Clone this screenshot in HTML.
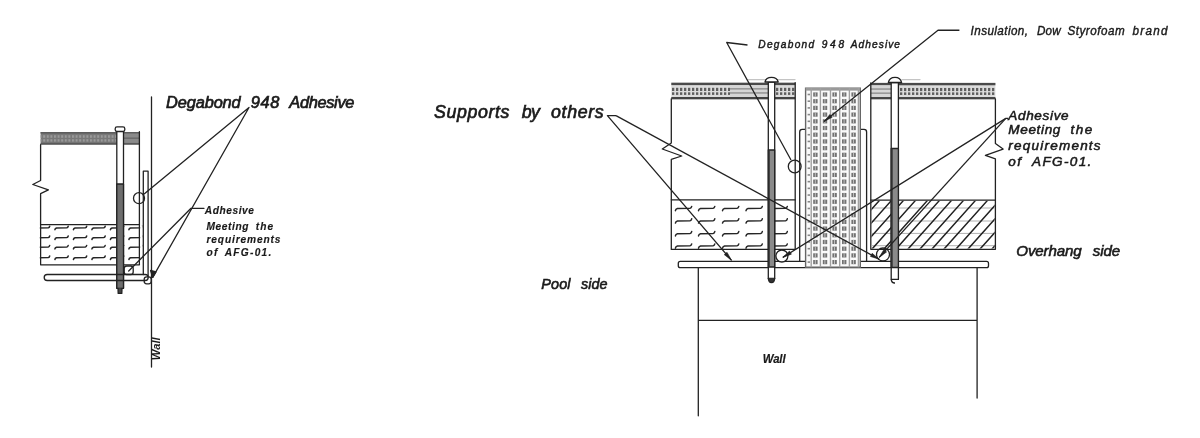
<!DOCTYPE html>
<html><head><meta charset="utf-8"><style>
html,body{margin:0;padding:0;background:#fff;width:1200px;height:438px;overflow:hidden}
svg{display:block;filter:grayscale(1)}
text{font-family:"Liberation Sans",sans-serif;font-style:italic;fill:#1a1a1a}
</style></head><body>
<svg width="1200" height="438" viewBox="0 0 1200 438">
<defs>
<pattern id="dash" x="0" y="0" width="4.0" height="10" patternUnits="userSpaceOnUse"><rect x="0" y="0" width="2.3" height="10" fill="#5e5e5e"/></pattern>
<pattern id="dashL" x="0" y="0" width="3.6" height="10" patternUnits="userSpaceOnUse"><rect x="0" y="0" width="2.0" height="10" fill="#9a9a9a"/></pattern>
</defs>
<rect width="1200" height="438" fill="#fff"/>
<g fill="none" stroke="#222" stroke-width="1.3" stroke-linejoin="round" stroke-linecap="round">
<g stroke="none"><rect x="40.6" y="132" width="98.8" height="12.6" fill="#787878"/><rect x="40.6" y="132" width="98.8" height="1.6" fill="#5c5c5c"/><rect x="40.6" y="142.9" width="98.8" height="1.7" fill="#595959"/><rect x="40.6" y="135.2" width="98.8" height="2.6" fill="url(#dashL)"/><rect x="40.6" y="139.2" width="98.8" height="2.4" fill="url(#dashL)"/><rect x="124" y="133.6" width="15.4" height="9.3" fill="#8a8a8a"/><rect x="124" y="137.6" width="15.4" height="1.1" fill="#5e5e5e"/></g>
<path d="M40.6 144.6 L40.6 180.5 L32.8 184.5 L48.4 189.9 L40.6 193.7 L40.6 264.8 L139.4 264.8 L139.4 131.6"/>
<line x1="40.6" y1="224.6" x2="139.4" y2="224.6"/>
<g stroke-width="1.5" stroke="#262626">
<path d="M36.40 229.71 Q36.64 228.40 38.03 228.00 L48.31 227.70 Q49.37 227.50 49.70 226.20"/>
<path d="M54.90 229.71 Q55.14 228.40 56.53 228.00 L66.81 227.70 Q67.87 227.50 68.20 226.20"/>
<path d="M73.40 229.71 Q73.64 228.40 75.03 228.00 L85.31 227.70 Q86.37 227.50 86.70 226.20"/>
<path d="M91.90 229.71 Q92.14 228.40 93.53 228.00 L103.81 227.70 Q104.87 227.50 105.20 226.20"/>
<path d="M110.40 229.71 Q110.64 228.40 112.03 228.00 L122.31 227.70 Q123.37 227.50 123.70 226.20"/>
<path d="M128.90 229.71 Q129.14 228.40 130.53 228.00 L140.81 227.70 Q141.87 227.50 142.20 226.20"/>
<path d="M36.40 239.51 Q36.64 238.20 38.03 237.80 L48.31 237.50 Q49.37 237.30 49.70 236.00"/>
<path d="M54.90 239.51 Q55.14 238.20 56.53 237.80 L66.81 237.50 Q67.87 237.30 68.20 236.00"/>
<path d="M73.40 239.51 Q73.64 238.20 75.03 237.80 L85.31 237.50 Q86.37 237.30 86.70 236.00"/>
<path d="M91.90 239.51 Q92.14 238.20 93.53 237.80 L103.81 237.50 Q104.87 237.30 105.20 236.00"/>
<path d="M110.40 239.51 Q110.64 238.20 112.03 237.80 L122.31 237.50 Q123.37 237.30 123.70 236.00"/>
<path d="M128.90 239.51 Q129.14 238.20 130.53 237.80 L140.81 237.50 Q141.87 237.30 142.20 236.00"/>
<path d="M36.40 248.91 Q36.64 247.60 38.03 247.20 L48.31 246.90 Q49.37 246.70 49.70 245.40"/>
<path d="M54.90 248.91 Q55.14 247.60 56.53 247.20 L66.81 246.90 Q67.87 246.70 68.20 245.40"/>
<path d="M73.40 248.91 Q73.64 247.60 75.03 247.20 L85.31 246.90 Q86.37 246.70 86.70 245.40"/>
<path d="M91.90 248.91 Q92.14 247.60 93.53 247.20 L103.81 246.90 Q104.87 246.70 105.20 245.40"/>
<path d="M110.40 248.91 Q110.64 247.60 112.03 247.20 L122.31 246.90 Q123.37 246.70 123.70 245.40"/>
<path d="M128.90 248.91 Q129.14 247.60 130.53 247.20 L140.81 246.90 Q141.87 246.70 142.20 245.40"/>
<path d="M36.40 259.51 Q36.64 258.20 38.03 257.80 L48.31 257.50 Q49.37 257.30 49.70 256.00"/>
<path d="M54.90 259.51 Q55.14 258.20 56.53 257.80 L66.81 257.50 Q67.87 257.30 68.20 256.00"/>
<path d="M73.40 259.51 Q73.64 258.20 75.03 257.80 L85.31 257.50 Q86.37 257.30 86.70 256.00"/>
<path d="M91.90 259.51 Q92.14 258.20 93.53 257.80 L103.81 257.50 Q104.87 257.30 105.20 256.00"/>
<path d="M110.40 259.51 Q110.64 258.20 112.03 257.80 L122.31 257.50 Q123.37 257.30 123.70 256.00"/>
<path d="M128.90 259.51 Q129.14 258.20 130.53 257.80 L140.81 257.50 Q141.87 257.30 142.20 256.00"/>
</g>
<rect x="20" y="225.5" width="19.8" height="42" fill="#fff" stroke="none"/>
<rect x="140.2" y="225.5" width="2.5" height="38.5" fill="#fff" stroke="none"/>
<rect x="116.8" y="131.3" width="6.7" height="157" fill="#fff"/>
<rect x="116.8" y="184" width="6.7" height="104.3" fill="#6e6e6e"/>
<rect x="115.2" y="126.9" width="9.6" height="4.6" rx="1.8" fill="#fff"/>
<path d="M118 288.3 L118.2 293.4 L121.8 293.4 L122 288.3" fill="#444"/>
<path d="M143.3 274.5 L143.3 171.2 L148.1 171.2 L148.1 276"/>
<rect x="44.2" y="274.5" width="104" height="6" rx="3"/>
<circle cx="139" cy="198.2" r="5.5"/>
<rect x="124.2" y="266" width="9" height="8.5" rx="2.5"/>
<rect x="144.2" y="276.8" width="7" height="7" rx="2.5"/>
<line x1="151.5" y1="97" x2="151.5" y2="367"/>
<path d="M143.2 194.8 L249 107.5 L152.7 277.4"/>
<path d="M152.7 277.4 L150.6 270.5 L156 272 Z" fill="#222"/>
<path d="M204 208.3 L191 208.3 L128.7 271"/>
</g>
<text transform="translate(166.1 107.5) scale(1.05 1)" x="0" y="0" textLength="71.05" lengthAdjust="spacing" font-size="15.6" font-weight="normal" stroke="#1a1a1a" stroke-width="0.65">Degabond</text>
<text transform="translate(250.8 107.5) scale(1.05 1)" x="0" y="0" textLength="27.14" lengthAdjust="spacing" font-size="15.6" font-weight="normal" stroke="#1a1a1a" stroke-width="0.65">948</text>
<text transform="translate(289.3 107.5) scale(1.05 1)" x="0" y="0" textLength="62.00" lengthAdjust="spacing" font-size="15.6" font-weight="normal" stroke="#1a1a1a" stroke-width="0.65">Adhesive</text>
<text transform="translate(204.7 213.7) scale(0.98 1)" x="0" y="0" textLength="50.31" lengthAdjust="spacing" font-size="10.4" font-weight="bold" stroke="#1a1a1a" stroke-width="0.15">Adhesive</text>
<text transform="translate(206.5 230.2) scale(0.98 1)" x="0" y="0" textLength="42.86" lengthAdjust="spacing" font-size="10.4" font-weight="bold" stroke="#1a1a1a" stroke-width="0.15">Meeting</text>
<text transform="translate(255.8 230.2) scale(0.98 1)" x="0" y="0" textLength="17.76" lengthAdjust="spacing" font-size="10.4" font-weight="bold" stroke="#1a1a1a" stroke-width="0.15">the</text>
<text transform="translate(206.5 243) scale(0.98 1)" x="0" y="0" textLength="75.51" lengthAdjust="spacing" font-size="10.4" font-weight="bold" stroke="#1a1a1a" stroke-width="0.15">requirements</text>
<text transform="translate(206.5 255.8) scale(0.98 1)" x="0" y="0" textLength="11.12" lengthAdjust="spacing" font-size="10.4" font-weight="bold" stroke="#1a1a1a" stroke-width="0.15">of</text>
<text transform="translate(224.7 255.8) scale(0.98 1)" x="0" y="0" textLength="47.55" lengthAdjust="spacing" font-size="10.4" font-weight="bold" stroke="#1a1a1a" stroke-width="0.15">AFG-01.</text>
<text transform="translate(159.7 360.2) rotate(-90)" x="0" y="0" textLength="22.9" lengthAdjust="spacingAndGlyphs" font-size="10.5" font-weight="bold">Wall</text>
<g fill="none" stroke="#222" stroke-width="1.3" stroke-linejoin="round" stroke-linecap="round">
<line x1="748" y1="79.6" x2="795" y2="79.6" stroke="#c4c4c4" stroke-width="1.3"/>
<line x1="902" y1="79.6" x2="920" y2="79.6" stroke="#c4c4c4" stroke-width="1.3"/>
<g stroke="none">
<rect x="671.3" y="82.7" width="123.9" height="16.6" fill="#dcdcdc"/>
<rect x="671.3" y="82.7" width="123.9" height="2.40" fill="#4a4a4a"/>
<rect x="671.3" y="97.00" width="123.9" height="2.30" fill="#444"/>
<rect x="671.3" y="87.80" width="123.9" height="3.20" fill="url(#dash)"/>
<rect x="671.3" y="92.30" width="123.9" height="2.60" fill="url(#dash)"/>
</g>
<g stroke="none"><rect x="730" y="85.2" width="38.3" height="11.8" fill="#d6d6d6"/><rect x="730" y="88.2" width="38.3" height="1.3" fill="#8a8a8a"/><rect x="730" y="92.3" width="38.3" height="1.3" fill="#8a8a8a"/></g>
<g stroke="none">
<rect x="870.8" y="82.9" width="124.6" height="16.4" fill="#dcdcdc"/>
<rect x="870.8" y="82.9" width="124.6" height="2.37" fill="#4a4a4a"/>
<rect x="870.8" y="97.03" width="124.6" height="2.27" fill="#444"/>
<rect x="870.8" y="87.94" width="124.6" height="3.16" fill="url(#dash)"/>
<rect x="870.8" y="92.38" width="124.6" height="2.57" fill="url(#dash)"/>
</g>
<g stroke="none"><rect x="871" y="85.4" width="20" height="11.6" fill="#d6d6d6"/><rect x="871" y="88.4" width="20" height="1.3" fill="#8a8a8a"/><rect x="871" y="92.5" width="20" height="1.3" fill="#8a8a8a"/></g>
<path d="M671.3 98.8 L671.3 143 L662.3 149 L681.7 156 L671.3 159.4 L671.3 249.4 L795.2 249.4 L795.2 82.6"/>
<line x1="671.3" y1="199.8" x2="795.2" y2="199.8"/>
<path d="M870.8 82.8 L870.8 249.3 L995.4 249.3 L995.4 158.8 L985.4 155.4 L1003.1 149.1 L995.4 143.4 L995.4 98.8"/>
<line x1="870.8" y1="200.1" x2="995.4" y2="200.1"/>
<g stroke-width="1.5" stroke="#262626">
<path d="M675.40 210.70 Q675.70 209.00 677.40 208.60 L690.00 208.30 Q691.30 208.10 691.70 206.40"/>
<path d="M698.50 210.70 Q698.80 209.00 700.50 208.60 L713.10 208.30 Q714.40 208.10 714.80 206.40"/>
<path d="M722.50 210.70 Q722.80 209.00 724.50 208.60 L737.10 208.30 Q738.40 208.10 738.80 206.40"/>
<path d="M746.00 210.70 Q746.30 209.00 748.00 208.60 L760.60 208.30 Q761.90 208.10 762.30 206.40"/>
<path d="M771.00 210.70 Q771.30 209.00 773.00 208.60 L785.60 208.30 Q786.90 208.10 787.30 206.40"/>
<path d="M675.40 223.10 Q675.70 221.40 677.40 221.00 L690.00 220.70 Q691.30 220.50 691.70 218.80"/>
<path d="M698.50 223.10 Q698.80 221.40 700.50 221.00 L713.10 220.70 Q714.40 220.50 714.80 218.80"/>
<path d="M722.50 223.10 Q722.80 221.40 724.50 221.00 L737.10 220.70 Q738.40 220.50 738.80 218.80"/>
<path d="M746.00 223.10 Q746.30 221.40 748.00 221.00 L760.60 220.70 Q761.90 220.50 762.30 218.80"/>
<path d="M771.00 223.10 Q771.30 221.40 773.00 221.00 L785.60 220.70 Q786.90 220.50 787.30 218.80"/>
<path d="M675.40 235.90 Q675.70 234.20 677.40 233.80 L690.00 233.50 Q691.30 233.30 691.70 231.60"/>
<path d="M698.50 235.90 Q698.80 234.20 700.50 233.80 L713.10 233.50 Q714.40 233.30 714.80 231.60"/>
<path d="M722.50 235.90 Q722.80 234.20 724.50 233.80 L737.10 233.50 Q738.40 233.30 738.80 231.60"/>
<path d="M746.00 235.90 Q746.30 234.20 748.00 233.80 L760.60 233.50 Q761.90 233.30 762.30 231.60"/>
<path d="M771.00 235.90 Q771.30 234.20 773.00 233.80 L785.60 233.50 Q786.90 233.30 787.30 231.60"/>
<path d="M675.40 248.20 Q675.70 246.50 677.40 246.10 L690.00 245.80 Q691.30 245.60 691.70 243.90"/>
<path d="M698.50 248.20 Q698.80 246.50 700.50 246.10 L713.10 245.80 Q714.40 245.60 714.80 243.90"/>
<path d="M722.50 248.20 Q722.80 246.50 724.50 246.10 L737.10 245.80 Q738.40 245.60 738.80 243.90"/>
<path d="M746.00 248.20 Q746.30 246.50 748.00 246.10 L760.60 245.80 Q761.90 245.60 762.30 243.90"/>
<path d="M771.00 248.20 Q771.30 246.50 773.00 246.10 L785.60 245.80 Q786.90 245.60 787.30 243.90"/>
</g>
<rect x="796" y="201" width="3" height="48" fill="#fff" stroke="none"/>
<clipPath id="rc"><rect x="871.5" y="200.8" width="123.2" height="47.8"/></clipPath>
<g clip-path="url(#rc)">
<g stroke="#b0b0b0" stroke-width="1">
<line x1="870.5" y1="208.0" x2="995.4" y2="208.0"/>
<line x1="870.5" y1="221.0" x2="995.4" y2="221.0"/>
<line x1="870.5" y1="233.4" x2="995.4" y2="233.4"/>
<line x1="870.5" y1="245.7" x2="995.4" y2="245.7"/>
</g>
<g stroke-width="1.5">
<line x1="787.8" y1="249.3" x2="831.8" y2="200.1"/>
<line x1="799.8" y1="249.3" x2="843.8" y2="200.1"/>
<line x1="811.8" y1="249.3" x2="855.8" y2="200.1"/>
<line x1="823.8" y1="249.3" x2="867.8" y2="200.1"/>
<line x1="835.8" y1="249.3" x2="879.8" y2="200.1"/>
<line x1="847.8" y1="249.3" x2="891.8" y2="200.1"/>
<line x1="859.8" y1="249.3" x2="903.8" y2="200.1"/>
<line x1="871.8" y1="249.3" x2="915.8" y2="200.1"/>
<line x1="883.8" y1="249.3" x2="927.8" y2="200.1"/>
<line x1="895.8" y1="249.3" x2="939.8" y2="200.1"/>
<line x1="907.8" y1="249.3" x2="951.8" y2="200.1"/>
<line x1="919.8" y1="249.3" x2="963.8" y2="200.1"/>
<line x1="931.8" y1="249.3" x2="975.8" y2="200.1"/>
<line x1="943.8" y1="249.3" x2="987.8" y2="200.1"/>
<line x1="955.8" y1="249.3" x2="999.8" y2="200.1"/>
<line x1="967.8" y1="249.3" x2="1011.8" y2="200.1"/>
<line x1="979.8" y1="249.3" x2="1023.8" y2="200.1"/>
<line x1="991.8" y1="249.3" x2="1035.8" y2="200.1"/>
<line x1="1003.8" y1="249.3" x2="1047.8" y2="200.1"/>
<line x1="1015.8" y1="249.3" x2="1059.8" y2="200.1"/>
<line x1="1027.8" y1="249.3" x2="1071.8" y2="200.1"/>
<line x1="1039.8" y1="249.3" x2="1083.8" y2="200.1"/>
<line x1="1051.8" y1="249.3" x2="1095.8" y2="200.1"/>
<line x1="1063.8" y1="249.3" x2="1107.8" y2="200.1"/>
<line x1="1075.8" y1="249.3" x2="1119.8" y2="200.1"/>
<line x1="1087.8" y1="249.3" x2="1131.8" y2="200.1"/>
</g></g>
<rect x="678.3" y="261.3" width="310.2" height="6.4" rx="2" fill="#fff"/>
<path d="M698.3 267.7 L698.3 415.8 M977.1 267.7 L977.1 398 M698.3 320.4 L977.1 320.4"/>
<path d="M799.7 261.3 L799.7 132 Q799.7 129.4 802.3 129.4 L805.6 129.4" fill="#fff"/>
<path d="M866.6 261.3 L866.6 132 Q866.6 129.4 864 129.4 L860.3 129.4" fill="#fff"/>
</g>
<g>
<rect x="805.6" y="88.2" width="54.7" height="179" fill="#fafafa" stroke="#666" stroke-width="1.4"/>
<rect x="805.6" y="88" width="54.7" height="2.6" fill="#999"/>
<line x1="811.2" y1="88.2" x2="811.2" y2="267.2" stroke="#a0a0a0" stroke-width="1.4"/>
<line x1="820.4" y1="88.2" x2="820.4" y2="267.2" stroke="#a0a0a0" stroke-width="1.4"/>
<line x1="830.5" y1="88.2" x2="830.5" y2="267.2" stroke="#a0a0a0" stroke-width="1.4"/>
<line x1="839.7" y1="88.2" x2="839.7" y2="267.2" stroke="#a0a0a0" stroke-width="1.4"/>
<line x1="849.4" y1="88.2" x2="849.4" y2="267.2" stroke="#a0a0a0" stroke-width="1.4"/>
<line x1="858.4" y1="88.2" x2="858.4" y2="267.2" stroke="#a0a0a0" stroke-width="1.4"/>
<rect x="813.20" y="92.40" width="4.4" height="4.2" fill="#727272"/><rect x="814.85" y="92.30" width="0.9" height="4.2" fill="#c8c8c8"/>
<rect x="822.80" y="92.40" width="4.4" height="4.2" fill="#727272"/><rect x="824.45" y="92.30" width="0.9" height="4.2" fill="#c8c8c8"/>
<rect x="832.40" y="92.40" width="4.4" height="4.2" fill="#727272"/><rect x="834.05" y="92.30" width="0.9" height="4.2" fill="#c8c8c8"/>
<rect x="842.00" y="92.40" width="4.4" height="4.2" fill="#727272"/><rect x="843.65" y="92.30" width="0.9" height="4.2" fill="#c8c8c8"/>
<rect x="851.40" y="92.40" width="4.4" height="4.2" fill="#727272"/><rect x="853.05" y="92.30" width="0.9" height="4.2" fill="#c8c8c8"/>
<rect x="807.6" y="93.70" width="2.4" height="1.6" fill="#888"/>
<rect x="813.20" y="99.10" width="4.4" height="4.2" fill="#727272"/><rect x="814.85" y="99.00" width="0.9" height="4.2" fill="#c8c8c8"/>
<rect x="822.80" y="99.10" width="4.4" height="4.2" fill="#727272"/><rect x="824.45" y="99.00" width="0.9" height="4.2" fill="#c8c8c8"/>
<rect x="832.40" y="99.10" width="4.4" height="4.2" fill="#727272"/><rect x="834.05" y="99.00" width="0.9" height="4.2" fill="#c8c8c8"/>
<rect x="842.00" y="99.10" width="4.4" height="4.2" fill="#727272"/><rect x="843.65" y="99.00" width="0.9" height="4.2" fill="#c8c8c8"/>
<rect x="851.40" y="99.10" width="4.4" height="4.2" fill="#727272"/><rect x="853.05" y="99.00" width="0.9" height="4.2" fill="#c8c8c8"/>
<rect x="807.6" y="100.40" width="2.4" height="1.6" fill="#888"/>
<rect x="813.20" y="105.81" width="4.4" height="4.2" fill="#727272"/><rect x="814.85" y="105.71" width="0.9" height="4.2" fill="#c8c8c8"/>
<rect x="822.80" y="105.81" width="4.4" height="4.2" fill="#727272"/><rect x="824.45" y="105.71" width="0.9" height="4.2" fill="#c8c8c8"/>
<rect x="832.40" y="105.81" width="4.4" height="4.2" fill="#727272"/><rect x="834.05" y="105.71" width="0.9" height="4.2" fill="#c8c8c8"/>
<rect x="842.00" y="105.81" width="4.4" height="4.2" fill="#727272"/><rect x="843.65" y="105.71" width="0.9" height="4.2" fill="#c8c8c8"/>
<rect x="851.40" y="105.81" width="4.4" height="4.2" fill="#727272"/><rect x="853.05" y="105.71" width="0.9" height="4.2" fill="#c8c8c8"/>
<rect x="807.6" y="107.11" width="2.4" height="1.6" fill="#888"/>
<rect x="813.20" y="112.51" width="4.4" height="4.2" fill="#727272"/><rect x="814.85" y="112.41" width="0.9" height="4.2" fill="#c8c8c8"/>
<rect x="822.80" y="112.51" width="4.4" height="4.2" fill="#727272"/><rect x="824.45" y="112.41" width="0.9" height="4.2" fill="#c8c8c8"/>
<rect x="832.40" y="112.51" width="4.4" height="4.2" fill="#727272"/><rect x="834.05" y="112.41" width="0.9" height="4.2" fill="#c8c8c8"/>
<rect x="842.00" y="112.51" width="4.4" height="4.2" fill="#727272"/><rect x="843.65" y="112.41" width="0.9" height="4.2" fill="#c8c8c8"/>
<rect x="851.40" y="112.51" width="4.4" height="4.2" fill="#727272"/><rect x="853.05" y="112.41" width="0.9" height="4.2" fill="#c8c8c8"/>
<rect x="807.6" y="113.81" width="2.4" height="1.6" fill="#888"/>
<rect x="813.20" y="119.22" width="4.4" height="4.2" fill="#727272"/><rect x="814.85" y="119.12" width="0.9" height="4.2" fill="#c8c8c8"/>
<rect x="822.80" y="119.22" width="4.4" height="4.2" fill="#727272"/><rect x="824.45" y="119.12" width="0.9" height="4.2" fill="#c8c8c8"/>
<rect x="832.40" y="119.22" width="4.4" height="4.2" fill="#727272"/><rect x="834.05" y="119.12" width="0.9" height="4.2" fill="#c8c8c8"/>
<rect x="842.00" y="119.22" width="4.4" height="4.2" fill="#727272"/><rect x="843.65" y="119.12" width="0.9" height="4.2" fill="#c8c8c8"/>
<rect x="851.40" y="119.22" width="4.4" height="4.2" fill="#727272"/><rect x="853.05" y="119.12" width="0.9" height="4.2" fill="#c8c8c8"/>
<rect x="807.6" y="120.52" width="2.4" height="1.6" fill="#888"/>
<rect x="813.20" y="125.92" width="4.4" height="4.2" fill="#727272"/><rect x="814.85" y="125.82" width="0.9" height="4.2" fill="#c8c8c8"/>
<rect x="822.80" y="125.92" width="4.4" height="4.2" fill="#727272"/><rect x="824.45" y="125.82" width="0.9" height="4.2" fill="#c8c8c8"/>
<rect x="832.40" y="125.92" width="4.4" height="4.2" fill="#727272"/><rect x="834.05" y="125.82" width="0.9" height="4.2" fill="#c8c8c8"/>
<rect x="842.00" y="125.92" width="4.4" height="4.2" fill="#727272"/><rect x="843.65" y="125.82" width="0.9" height="4.2" fill="#c8c8c8"/>
<rect x="851.40" y="125.92" width="4.4" height="4.2" fill="#727272"/><rect x="853.05" y="125.82" width="0.9" height="4.2" fill="#c8c8c8"/>
<rect x="807.6" y="127.22" width="2.4" height="1.6" fill="#888"/>
<rect x="813.20" y="132.62" width="4.4" height="4.2" fill="#727272"/><rect x="814.85" y="132.52" width="0.9" height="4.2" fill="#c8c8c8"/>
<rect x="822.80" y="132.62" width="4.4" height="4.2" fill="#727272"/><rect x="824.45" y="132.52" width="0.9" height="4.2" fill="#c8c8c8"/>
<rect x="832.40" y="132.62" width="4.4" height="4.2" fill="#727272"/><rect x="834.05" y="132.52" width="0.9" height="4.2" fill="#c8c8c8"/>
<rect x="842.00" y="132.62" width="4.4" height="4.2" fill="#727272"/><rect x="843.65" y="132.52" width="0.9" height="4.2" fill="#c8c8c8"/>
<rect x="851.40" y="132.62" width="4.4" height="4.2" fill="#727272"/><rect x="853.05" y="132.52" width="0.9" height="4.2" fill="#c8c8c8"/>
<rect x="807.6" y="133.92" width="2.4" height="1.6" fill="#888"/>
<rect x="813.20" y="139.33" width="4.4" height="4.2" fill="#727272"/><rect x="814.85" y="139.23" width="0.9" height="4.2" fill="#c8c8c8"/>
<rect x="822.80" y="139.33" width="4.4" height="4.2" fill="#727272"/><rect x="824.45" y="139.23" width="0.9" height="4.2" fill="#c8c8c8"/>
<rect x="832.40" y="139.33" width="4.4" height="4.2" fill="#727272"/><rect x="834.05" y="139.23" width="0.9" height="4.2" fill="#c8c8c8"/>
<rect x="842.00" y="139.33" width="4.4" height="4.2" fill="#727272"/><rect x="843.65" y="139.23" width="0.9" height="4.2" fill="#c8c8c8"/>
<rect x="851.40" y="139.33" width="4.4" height="4.2" fill="#727272"/><rect x="853.05" y="139.23" width="0.9" height="4.2" fill="#c8c8c8"/>
<rect x="807.6" y="140.63" width="2.4" height="1.6" fill="#888"/>
<rect x="813.20" y="146.03" width="4.4" height="4.2" fill="#727272"/><rect x="814.85" y="145.93" width="0.9" height="4.2" fill="#c8c8c8"/>
<rect x="822.80" y="146.03" width="4.4" height="4.2" fill="#727272"/><rect x="824.45" y="145.93" width="0.9" height="4.2" fill="#c8c8c8"/>
<rect x="832.40" y="146.03" width="4.4" height="4.2" fill="#727272"/><rect x="834.05" y="145.93" width="0.9" height="4.2" fill="#c8c8c8"/>
<rect x="842.00" y="146.03" width="4.4" height="4.2" fill="#727272"/><rect x="843.65" y="145.93" width="0.9" height="4.2" fill="#c8c8c8"/>
<rect x="851.40" y="146.03" width="4.4" height="4.2" fill="#727272"/><rect x="853.05" y="145.93" width="0.9" height="4.2" fill="#c8c8c8"/>
<rect x="807.6" y="147.33" width="2.4" height="1.6" fill="#888"/>
<rect x="813.20" y="152.74" width="4.4" height="4.2" fill="#727272"/><rect x="814.85" y="152.64" width="0.9" height="4.2" fill="#c8c8c8"/>
<rect x="822.80" y="152.74" width="4.4" height="4.2" fill="#727272"/><rect x="824.45" y="152.64" width="0.9" height="4.2" fill="#c8c8c8"/>
<rect x="832.40" y="152.74" width="4.4" height="4.2" fill="#727272"/><rect x="834.05" y="152.64" width="0.9" height="4.2" fill="#c8c8c8"/>
<rect x="842.00" y="152.74" width="4.4" height="4.2" fill="#727272"/><rect x="843.65" y="152.64" width="0.9" height="4.2" fill="#c8c8c8"/>
<rect x="851.40" y="152.74" width="4.4" height="4.2" fill="#727272"/><rect x="853.05" y="152.64" width="0.9" height="4.2" fill="#c8c8c8"/>
<rect x="807.6" y="154.04" width="2.4" height="1.6" fill="#888"/>
<rect x="813.20" y="159.44" width="4.4" height="4.2" fill="#727272"/><rect x="814.85" y="159.34" width="0.9" height="4.2" fill="#c8c8c8"/>
<rect x="822.80" y="159.44" width="4.4" height="4.2" fill="#727272"/><rect x="824.45" y="159.34" width="0.9" height="4.2" fill="#c8c8c8"/>
<rect x="832.40" y="159.44" width="4.4" height="4.2" fill="#727272"/><rect x="834.05" y="159.34" width="0.9" height="4.2" fill="#c8c8c8"/>
<rect x="842.00" y="159.44" width="4.4" height="4.2" fill="#727272"/><rect x="843.65" y="159.34" width="0.9" height="4.2" fill="#c8c8c8"/>
<rect x="851.40" y="159.44" width="4.4" height="4.2" fill="#727272"/><rect x="853.05" y="159.34" width="0.9" height="4.2" fill="#c8c8c8"/>
<rect x="807.6" y="160.74" width="2.4" height="1.6" fill="#888"/>
<rect x="813.20" y="166.14" width="4.4" height="4.2" fill="#727272"/><rect x="814.85" y="166.04" width="0.9" height="4.2" fill="#c8c8c8"/>
<rect x="822.80" y="166.14" width="4.4" height="4.2" fill="#727272"/><rect x="824.45" y="166.04" width="0.9" height="4.2" fill="#c8c8c8"/>
<rect x="832.40" y="166.14" width="4.4" height="4.2" fill="#727272"/><rect x="834.05" y="166.04" width="0.9" height="4.2" fill="#c8c8c8"/>
<rect x="842.00" y="166.14" width="4.4" height="4.2" fill="#727272"/><rect x="843.65" y="166.04" width="0.9" height="4.2" fill="#c8c8c8"/>
<rect x="851.40" y="166.14" width="4.4" height="4.2" fill="#727272"/><rect x="853.05" y="166.04" width="0.9" height="4.2" fill="#c8c8c8"/>
<rect x="807.6" y="167.44" width="2.4" height="1.6" fill="#888"/>
<rect x="813.20" y="172.85" width="4.4" height="4.2" fill="#727272"/><rect x="814.85" y="172.75" width="0.9" height="4.2" fill="#c8c8c8"/>
<rect x="822.80" y="172.85" width="4.4" height="4.2" fill="#727272"/><rect x="824.45" y="172.75" width="0.9" height="4.2" fill="#c8c8c8"/>
<rect x="832.40" y="172.85" width="4.4" height="4.2" fill="#727272"/><rect x="834.05" y="172.75" width="0.9" height="4.2" fill="#c8c8c8"/>
<rect x="842.00" y="172.85" width="4.4" height="4.2" fill="#727272"/><rect x="843.65" y="172.75" width="0.9" height="4.2" fill="#c8c8c8"/>
<rect x="851.40" y="172.85" width="4.4" height="4.2" fill="#727272"/><rect x="853.05" y="172.75" width="0.9" height="4.2" fill="#c8c8c8"/>
<rect x="807.6" y="174.15" width="2.4" height="1.6" fill="#888"/>
<rect x="813.20" y="179.55" width="4.4" height="4.2" fill="#727272"/><rect x="814.85" y="179.45" width="0.9" height="4.2" fill="#c8c8c8"/>
<rect x="822.80" y="179.55" width="4.4" height="4.2" fill="#727272"/><rect x="824.45" y="179.45" width="0.9" height="4.2" fill="#c8c8c8"/>
<rect x="832.40" y="179.55" width="4.4" height="4.2" fill="#727272"/><rect x="834.05" y="179.45" width="0.9" height="4.2" fill="#c8c8c8"/>
<rect x="842.00" y="179.55" width="4.4" height="4.2" fill="#727272"/><rect x="843.65" y="179.45" width="0.9" height="4.2" fill="#c8c8c8"/>
<rect x="851.40" y="179.55" width="4.4" height="4.2" fill="#727272"/><rect x="853.05" y="179.45" width="0.9" height="4.2" fill="#c8c8c8"/>
<rect x="807.6" y="180.85" width="2.4" height="1.6" fill="#888"/>
<rect x="813.20" y="186.26" width="4.4" height="4.2" fill="#727272"/><rect x="814.85" y="186.16" width="0.9" height="4.2" fill="#c8c8c8"/>
<rect x="822.80" y="186.26" width="4.4" height="4.2" fill="#727272"/><rect x="824.45" y="186.16" width="0.9" height="4.2" fill="#c8c8c8"/>
<rect x="832.40" y="186.26" width="4.4" height="4.2" fill="#727272"/><rect x="834.05" y="186.16" width="0.9" height="4.2" fill="#c8c8c8"/>
<rect x="842.00" y="186.26" width="4.4" height="4.2" fill="#727272"/><rect x="843.65" y="186.16" width="0.9" height="4.2" fill="#c8c8c8"/>
<rect x="851.40" y="186.26" width="4.4" height="4.2" fill="#727272"/><rect x="853.05" y="186.16" width="0.9" height="4.2" fill="#c8c8c8"/>
<rect x="807.6" y="187.56" width="2.4" height="1.6" fill="#888"/>
<rect x="813.20" y="192.96" width="4.4" height="4.2" fill="#727272"/><rect x="814.85" y="192.86" width="0.9" height="4.2" fill="#c8c8c8"/>
<rect x="822.80" y="192.96" width="4.4" height="4.2" fill="#727272"/><rect x="824.45" y="192.86" width="0.9" height="4.2" fill="#c8c8c8"/>
<rect x="832.40" y="192.96" width="4.4" height="4.2" fill="#727272"/><rect x="834.05" y="192.86" width="0.9" height="4.2" fill="#c8c8c8"/>
<rect x="842.00" y="192.96" width="4.4" height="4.2" fill="#727272"/><rect x="843.65" y="192.86" width="0.9" height="4.2" fill="#c8c8c8"/>
<rect x="851.40" y="192.96" width="4.4" height="4.2" fill="#727272"/><rect x="853.05" y="192.86" width="0.9" height="4.2" fill="#c8c8c8"/>
<rect x="807.6" y="194.26" width="2.4" height="1.6" fill="#888"/>
<rect x="813.20" y="199.66" width="4.4" height="4.2" fill="#727272"/><rect x="814.85" y="199.56" width="0.9" height="4.2" fill="#c8c8c8"/>
<rect x="822.80" y="199.66" width="4.4" height="4.2" fill="#727272"/><rect x="824.45" y="199.56" width="0.9" height="4.2" fill="#c8c8c8"/>
<rect x="832.40" y="199.66" width="4.4" height="4.2" fill="#727272"/><rect x="834.05" y="199.56" width="0.9" height="4.2" fill="#c8c8c8"/>
<rect x="842.00" y="199.66" width="4.4" height="4.2" fill="#727272"/><rect x="843.65" y="199.56" width="0.9" height="4.2" fill="#c8c8c8"/>
<rect x="851.40" y="199.66" width="4.4" height="4.2" fill="#727272"/><rect x="853.05" y="199.56" width="0.9" height="4.2" fill="#c8c8c8"/>
<rect x="807.6" y="200.96" width="2.4" height="1.6" fill="#888"/>
<rect x="813.20" y="206.37" width="4.4" height="4.2" fill="#727272"/><rect x="814.85" y="206.27" width="0.9" height="4.2" fill="#c8c8c8"/>
<rect x="822.80" y="206.37" width="4.4" height="4.2" fill="#727272"/><rect x="824.45" y="206.27" width="0.9" height="4.2" fill="#c8c8c8"/>
<rect x="832.40" y="206.37" width="4.4" height="4.2" fill="#727272"/><rect x="834.05" y="206.27" width="0.9" height="4.2" fill="#c8c8c8"/>
<rect x="842.00" y="206.37" width="4.4" height="4.2" fill="#727272"/><rect x="843.65" y="206.27" width="0.9" height="4.2" fill="#c8c8c8"/>
<rect x="851.40" y="206.37" width="4.4" height="4.2" fill="#727272"/><rect x="853.05" y="206.27" width="0.9" height="4.2" fill="#c8c8c8"/>
<rect x="807.6" y="207.67" width="2.4" height="1.6" fill="#888"/>
<rect x="813.20" y="213.07" width="4.4" height="4.2" fill="#727272"/><rect x="814.85" y="212.97" width="0.9" height="4.2" fill="#c8c8c8"/>
<rect x="822.80" y="213.07" width="4.4" height="4.2" fill="#727272"/><rect x="824.45" y="212.97" width="0.9" height="4.2" fill="#c8c8c8"/>
<rect x="832.40" y="213.07" width="4.4" height="4.2" fill="#727272"/><rect x="834.05" y="212.97" width="0.9" height="4.2" fill="#c8c8c8"/>
<rect x="842.00" y="213.07" width="4.4" height="4.2" fill="#727272"/><rect x="843.65" y="212.97" width="0.9" height="4.2" fill="#c8c8c8"/>
<rect x="851.40" y="213.07" width="4.4" height="4.2" fill="#727272"/><rect x="853.05" y="212.97" width="0.9" height="4.2" fill="#c8c8c8"/>
<rect x="807.6" y="214.37" width="2.4" height="1.6" fill="#888"/>
<rect x="813.20" y="219.78" width="4.4" height="4.2" fill="#727272"/><rect x="814.85" y="219.68" width="0.9" height="4.2" fill="#c8c8c8"/>
<rect x="822.80" y="219.78" width="4.4" height="4.2" fill="#727272"/><rect x="824.45" y="219.68" width="0.9" height="4.2" fill="#c8c8c8"/>
<rect x="832.40" y="219.78" width="4.4" height="4.2" fill="#727272"/><rect x="834.05" y="219.68" width="0.9" height="4.2" fill="#c8c8c8"/>
<rect x="842.00" y="219.78" width="4.4" height="4.2" fill="#727272"/><rect x="843.65" y="219.68" width="0.9" height="4.2" fill="#c8c8c8"/>
<rect x="851.40" y="219.78" width="4.4" height="4.2" fill="#727272"/><rect x="853.05" y="219.68" width="0.9" height="4.2" fill="#c8c8c8"/>
<rect x="807.6" y="221.08" width="2.4" height="1.6" fill="#888"/>
<rect x="813.20" y="226.48" width="4.4" height="4.2" fill="#727272"/><rect x="814.85" y="226.38" width="0.9" height="4.2" fill="#c8c8c8"/>
<rect x="822.80" y="226.48" width="4.4" height="4.2" fill="#727272"/><rect x="824.45" y="226.38" width="0.9" height="4.2" fill="#c8c8c8"/>
<rect x="832.40" y="226.48" width="4.4" height="4.2" fill="#727272"/><rect x="834.05" y="226.38" width="0.9" height="4.2" fill="#c8c8c8"/>
<rect x="842.00" y="226.48" width="4.4" height="4.2" fill="#727272"/><rect x="843.65" y="226.38" width="0.9" height="4.2" fill="#c8c8c8"/>
<rect x="851.40" y="226.48" width="4.4" height="4.2" fill="#727272"/><rect x="853.05" y="226.38" width="0.9" height="4.2" fill="#c8c8c8"/>
<rect x="807.6" y="227.78" width="2.4" height="1.6" fill="#888"/>
<rect x="813.20" y="233.18" width="4.4" height="4.2" fill="#727272"/><rect x="814.85" y="233.08" width="0.9" height="4.2" fill="#c8c8c8"/>
<rect x="822.80" y="233.18" width="4.4" height="4.2" fill="#727272"/><rect x="824.45" y="233.08" width="0.9" height="4.2" fill="#c8c8c8"/>
<rect x="832.40" y="233.18" width="4.4" height="4.2" fill="#727272"/><rect x="834.05" y="233.08" width="0.9" height="4.2" fill="#c8c8c8"/>
<rect x="842.00" y="233.18" width="4.4" height="4.2" fill="#727272"/><rect x="843.65" y="233.08" width="0.9" height="4.2" fill="#c8c8c8"/>
<rect x="851.40" y="233.18" width="4.4" height="4.2" fill="#727272"/><rect x="853.05" y="233.08" width="0.9" height="4.2" fill="#c8c8c8"/>
<rect x="807.6" y="234.48" width="2.4" height="1.6" fill="#888"/>
<rect x="813.20" y="239.89" width="4.4" height="4.2" fill="#727272"/><rect x="814.85" y="239.79" width="0.9" height="4.2" fill="#c8c8c8"/>
<rect x="822.80" y="239.89" width="4.4" height="4.2" fill="#727272"/><rect x="824.45" y="239.79" width="0.9" height="4.2" fill="#c8c8c8"/>
<rect x="832.40" y="239.89" width="4.4" height="4.2" fill="#727272"/><rect x="834.05" y="239.79" width="0.9" height="4.2" fill="#c8c8c8"/>
<rect x="842.00" y="239.89" width="4.4" height="4.2" fill="#727272"/><rect x="843.65" y="239.79" width="0.9" height="4.2" fill="#c8c8c8"/>
<rect x="851.40" y="239.89" width="4.4" height="4.2" fill="#727272"/><rect x="853.05" y="239.79" width="0.9" height="4.2" fill="#c8c8c8"/>
<rect x="807.6" y="241.19" width="2.4" height="1.6" fill="#888"/>
<rect x="813.20" y="246.59" width="4.4" height="4.2" fill="#727272"/><rect x="814.85" y="246.49" width="0.9" height="4.2" fill="#c8c8c8"/>
<rect x="822.80" y="246.59" width="4.4" height="4.2" fill="#727272"/><rect x="824.45" y="246.49" width="0.9" height="4.2" fill="#c8c8c8"/>
<rect x="832.40" y="246.59" width="4.4" height="4.2" fill="#727272"/><rect x="834.05" y="246.49" width="0.9" height="4.2" fill="#c8c8c8"/>
<rect x="842.00" y="246.59" width="4.4" height="4.2" fill="#727272"/><rect x="843.65" y="246.49" width="0.9" height="4.2" fill="#c8c8c8"/>
<rect x="851.40" y="246.59" width="4.4" height="4.2" fill="#727272"/><rect x="853.05" y="246.49" width="0.9" height="4.2" fill="#c8c8c8"/>
<rect x="807.6" y="247.89" width="2.4" height="1.6" fill="#888"/>
<rect x="813.20" y="253.30" width="4.4" height="4.2" fill="#727272"/><rect x="814.85" y="253.20" width="0.9" height="4.2" fill="#c8c8c8"/>
<rect x="822.80" y="253.30" width="4.4" height="4.2" fill="#727272"/><rect x="824.45" y="253.20" width="0.9" height="4.2" fill="#c8c8c8"/>
<rect x="832.40" y="253.30" width="4.4" height="4.2" fill="#727272"/><rect x="834.05" y="253.20" width="0.9" height="4.2" fill="#c8c8c8"/>
<rect x="842.00" y="253.30" width="4.4" height="4.2" fill="#727272"/><rect x="843.65" y="253.20" width="0.9" height="4.2" fill="#c8c8c8"/>
<rect x="851.40" y="253.30" width="4.4" height="4.2" fill="#727272"/><rect x="853.05" y="253.20" width="0.9" height="4.2" fill="#c8c8c8"/>
<rect x="807.6" y="254.60" width="2.4" height="1.6" fill="#888"/>
<rect x="813.20" y="260.00" width="4.4" height="4.2" fill="#727272"/><rect x="814.85" y="259.90" width="0.9" height="4.2" fill="#c8c8c8"/>
<rect x="822.80" y="260.00" width="4.4" height="4.2" fill="#727272"/><rect x="824.45" y="259.90" width="0.9" height="4.2" fill="#c8c8c8"/>
<rect x="832.40" y="260.00" width="4.4" height="4.2" fill="#727272"/><rect x="834.05" y="259.90" width="0.9" height="4.2" fill="#c8c8c8"/>
<rect x="842.00" y="260.00" width="4.4" height="4.2" fill="#727272"/><rect x="843.65" y="259.90" width="0.9" height="4.2" fill="#c8c8c8"/>
<rect x="851.40" y="260.00" width="4.4" height="4.2" fill="#727272"/><rect x="853.05" y="259.90" width="0.9" height="4.2" fill="#c8c8c8"/>
<rect x="807.6" y="261.30" width="2.4" height="1.6" fill="#888"/>
</g>
<g fill="none" stroke="#222" stroke-width="1.3" stroke-linejoin="round">
<rect x="768.3" y="82" width="6.4" height="196.4" fill="#fff"/>
<rect x="768.3" y="150" width="6.4" height="117" fill="#8a8a8a"/>
<line x1="769.2" y1="150" x2="769.2" y2="267" stroke="#333" stroke-width="1.2"/>
<path d="M765 82 Q766 77.4 771.5 77.4 Q777 77.4 778.2 82 Z" fill="#fff"/>
<path d="M768.3 278 Q768.5 282.6 771.5 282.6 Q774.5 282.6 774.7 278" fill="#333"/>
<rect x="891.2" y="82.5" width="7.2" height="196.9" fill="#fff"/>
<rect x="891.2" y="148.5" width="7.2" height="119" fill="#8a8a8a"/>
<line x1="892.1" y1="148.5" x2="892.1" y2="267" stroke="#333" stroke-width="1.2"/>
<path d="M888.3 82.5 Q889.3 77.3 895 77.3 Q900.6 77.3 901.6 82.5 Z" fill="#fff"/>
<path d="M891.2 279.4 Q891.6 283.2 895 283" />
<circle cx="794.7" cy="166.5" r="6.4"/>
<circle cx="781.9" cy="256" r="6" fill="#fff"/>
<circle cx="883" cy="254.5" r="6.5"/>
<path d="M747.5 45 L726.7 42.5 L791 160"/>
<path d="M959.4 30.25 L938 30.25 L824 121.5"/>
<path d="M824.00 121.50 L832.15 117.28 L829.90 114.47 Z" fill="#222" stroke="#222" stroke-width="0.6"/>
<path d="M616 115.6 L607.4 115.6 L731.5 260.3"/>
<path d="M731.50 260.30 L727.01 252.30 L724.27 254.64 Z" fill="#222" stroke="#222" stroke-width="0.6"/>
<path d="M616 115.6 L879.2 259.2"/>
<path d="M879.20 259.20 L872.16 253.31 L870.44 256.47 Z" fill="#222" stroke="#222" stroke-width="0.6"/>
<path d="M1008 118.4 L1005.8 118.4 L782.8 257.4"/>
<path d="M782.80 257.40 L791.39 254.17 L789.49 251.11 Z" fill="#222" stroke="#222" stroke-width="0.6"/>
<path d="M1005.8 118.4 L879.2 257.4"/>
<path d="M879.20 257.40 L886.59 251.96 L883.93 249.53 Z" fill="#222" stroke="#222" stroke-width="0.6"/>
</g>
<text transform="translate(758.3 47.5) scale(0.95 1)" x="0" y="0" textLength="58.84" lengthAdjust="spacing" font-size="10.7" font-weight="normal" stroke="#1a1a1a" stroke-width="0.45">Degabond</text>
<text transform="translate(821.7 47.5) scale(0.95 1)" x="0" y="0" textLength="23.68" lengthAdjust="spacing" font-size="10.7" font-weight="normal" stroke="#1a1a1a" stroke-width="0.45">948</text>
<text transform="translate(850.8 47.5) scale(0.95 1)" x="0" y="0" textLength="51.79" lengthAdjust="spacing" font-size="10.7" font-weight="normal" stroke="#1a1a1a" stroke-width="0.45">Adhesive</text>
<text transform="translate(970.6 34.75) scale(0.95 1)" x="0" y="0" textLength="60.42" lengthAdjust="spacing" font-size="12.3" font-weight="normal" stroke="#1a1a1a" stroke-width="0.4">Insulation,</text>
<text transform="translate(1037 34.75) scale(0.95 1)" x="0" y="0" textLength="24.84" lengthAdjust="spacing" font-size="12.3" font-weight="normal" stroke="#1a1a1a" stroke-width="0.4">Dow</text>
<text transform="translate(1067.4 34.75) scale(0.95 1)" x="0" y="0" textLength="60.42" lengthAdjust="spacing" font-size="12.3" font-weight="normal" stroke="#1a1a1a" stroke-width="0.4">Styrofoam</text>
<text transform="translate(1132.6 34.75) scale(0.95 1)" x="0" y="0" textLength="36.74" lengthAdjust="spacing" font-size="12.3" font-weight="normal" stroke="#1a1a1a" stroke-width="0.4">brand</text>
<text transform="translate(434.1 118.2) scale(1.0 1)" x="0" y="0" textLength="75.40" lengthAdjust="spacing" font-size="17.8" font-weight="normal" stroke="#1a1a1a" stroke-width="0.65">Supports</text>
<text transform="translate(521.8 118.2) scale(1.0 1)" x="0" y="0" textLength="18.20" lengthAdjust="spacing" font-size="17.8" font-weight="normal" stroke="#1a1a1a" stroke-width="0.65">by</text>
<text transform="translate(551 118.2) scale(1.0 1)" x="0" y="0" textLength="52.70" lengthAdjust="spacing" font-size="17.8" font-weight="normal" stroke="#1a1a1a" stroke-width="0.65">others</text>
<text transform="translate(1008.3 120.1) scale(1.1 1)" x="0" y="0" textLength="54.82" lengthAdjust="spacing" font-size="12.3" font-weight="normal" stroke="#1a1a1a" stroke-width="0.5">Adhesive</text>
<text transform="translate(1008.3 133.8) scale(1.1 1)" x="0" y="0" textLength="47.36" lengthAdjust="spacing" font-size="12.3" font-weight="normal" stroke="#1a1a1a" stroke-width="0.5">Meeting</text>
<text transform="translate(1070.4 133.8) scale(1.1 1)" x="0" y="0" textLength="20.00" lengthAdjust="spacing" font-size="12.3" font-weight="normal" stroke="#1a1a1a" stroke-width="0.5">the</text>
<text transform="translate(1008.3 149.7) scale(1.1 1)" x="0" y="0" textLength="83.91" lengthAdjust="spacing" font-size="12.3" font-weight="normal" stroke="#1a1a1a" stroke-width="0.5">requirements</text>
<text transform="translate(1008.3 165.8) scale(1.1 1)" x="0" y="0" textLength="11.55" lengthAdjust="spacing" font-size="12.3" font-weight="normal" stroke="#1a1a1a" stroke-width="0.5">of</text>
<text transform="translate(1032 165.8) scale(1.1 1)" x="0" y="0" textLength="54.00" lengthAdjust="spacing" font-size="12.3" font-weight="normal" stroke="#1a1a1a" stroke-width="0.5">AFG-01.</text>
<text transform="translate(541.3 289.1) scale(1.0 1)" x="0" y="0" textLength="29.20" lengthAdjust="spacing" font-size="14.4" font-weight="normal" stroke="#1a1a1a" stroke-width="0.6">Pool</text>
<text transform="translate(581 289.1) scale(1.0 1)" x="0" y="0" textLength="26.60" lengthAdjust="spacing" font-size="14.4" font-weight="normal" stroke="#1a1a1a" stroke-width="0.6">side</text>
<text transform="translate(1016.3 256.3) scale(1.0 1)" x="0" y="0" textLength="65.40" lengthAdjust="spacing" font-size="15.1" font-weight="normal" stroke="#1a1a1a" stroke-width="0.6">Overhang</text>
<text transform="translate(1092.8 256.3) scale(1.0 1)" x="0" y="0" textLength="27.40" lengthAdjust="spacing" font-size="15.1" font-weight="normal" stroke="#1a1a1a" stroke-width="0.6">side</text>
<text transform="translate(762.7 363) scale(0.95 1)" x="0" y="0" textLength="24.11" lengthAdjust="spacing" font-size="12.0" font-weight="bold" stroke="#1a1a1a" stroke-width="0.2">Wall</text>
</svg></body></html>
